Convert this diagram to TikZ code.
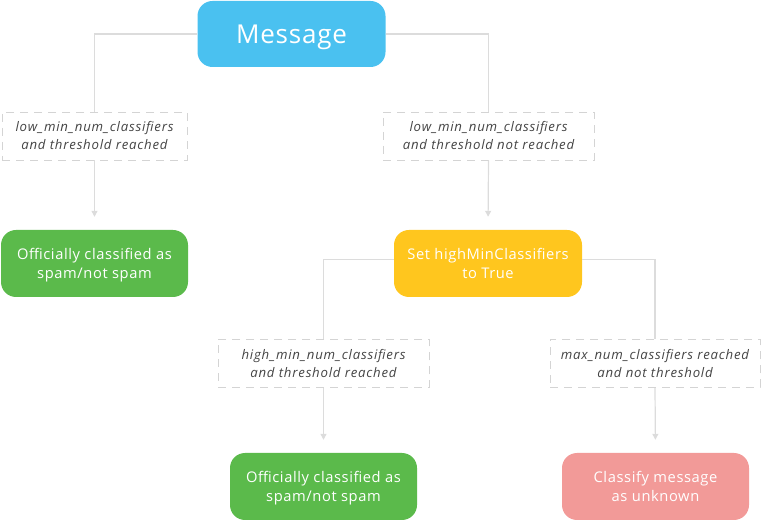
\documentclass[tikz,border=0pt]{standalone}
\usepackage{fontspec}
\setmainfont{Open Sans}
\usetikzlibrary{arrows.meta}
\definecolor{cblue}{HTML}{4AC1F0}
\definecolor{cgreen}{HTML}{5BBA4B}
\definecolor{cyellow}{HTML}{FFC61E}
\definecolor{cred}{HTML}{F29A98}
\definecolor{cline}{HTML}{DCDCDC}
\definecolor{cdash}{HTML}{D4D4D4}
\definecolor{ctext}{HTML}{444444}
\tikzset{
  box/.style={rounded corners=15pt, text=white, align=center, inner sep=0pt,
    minimum width=187pt, minimum height=67pt, text height=33pt, text depth=3pt,
    font=\fontsize{14.7}{19}\selectfont\addfontfeature{LetterSpace=4}},
  cond/.style={draw=cdash, line width=0.9pt, dash pattern=on 8pt off 6pt, align=center,
    inner sep=0pt, minimum height=48pt, text=ctext, font=\fontsize{13.2}{18}\selectfont\itshape\addfontfeature{LetterSpace=6}},
  conn/.style={draw=cline, line width=1.2pt},
  arr/.style={conn, -{Triangle[width=6pt,length=6pt]}, shorten >=13pt},
}
\begin{document}
\begin{tikzpicture}[x=1pt,y=-1pt]
\useasboundingbox (0,0) rectangle (761,526);
\node[box, fill=cblue, minimum width=188pt, minimum height=66pt, text height=22pt, text depth=2pt, font=\fontsize{26}{30}\selectfont\addfontfeature{LetterSpace=3}] (msg) at (291.5,34) {Message};
\node[cond, minimum width=185pt] (l1) at (94.5,136) {low\_min\_num\_classifiers\\and threshold reached};
\node[cond, minimum width=211pt] (l2) at (488.5,136) {low\_min\_num\_classifiers\\and threshold not reached};
\node[box, fill=cgreen] (g1) at (94.5,263.5) {Officially classified as\\spam/not spam};
\node[box, fill=cyellow, minimum width=188pt] (yl) at (488,263.5) {Set highMinClassifiers\\to True};
\node[cond, minimum width=211pt] (l3) at (323.5,363.5) {high\_min\_num\_classifiers\\and threshold reached};
\node[cond, minimum width=210pt] (l4) at (655,363.5) {max\_num\_classifiers reached\\and not threshold};
\node[box, fill=cgreen] (g2) at (323.5,486.5) {Officially classified as\\spam/not spam};
\node[box, fill=cred] (rd) at (655.5,486.5) {Classify message\\as unknown};
\draw[conn] (msg.west) -| (l1.north);
\draw[conn] (msg.east) -| (l2.north);
\draw[arr] (l1.south) -- (g1.north);
\draw[arr] (l2.south) -- (yl.north);
\draw[conn] ([yshift=4pt]yl.west) -| (l3.north);
\draw[conn] ([yshift=4pt]yl.east) -| (l4.north);
\draw[arr] (l3.south) -- (g2.north);
\draw[arr] (l4.south) -- (rd.north);
\end{tikzpicture}
\end{document}
